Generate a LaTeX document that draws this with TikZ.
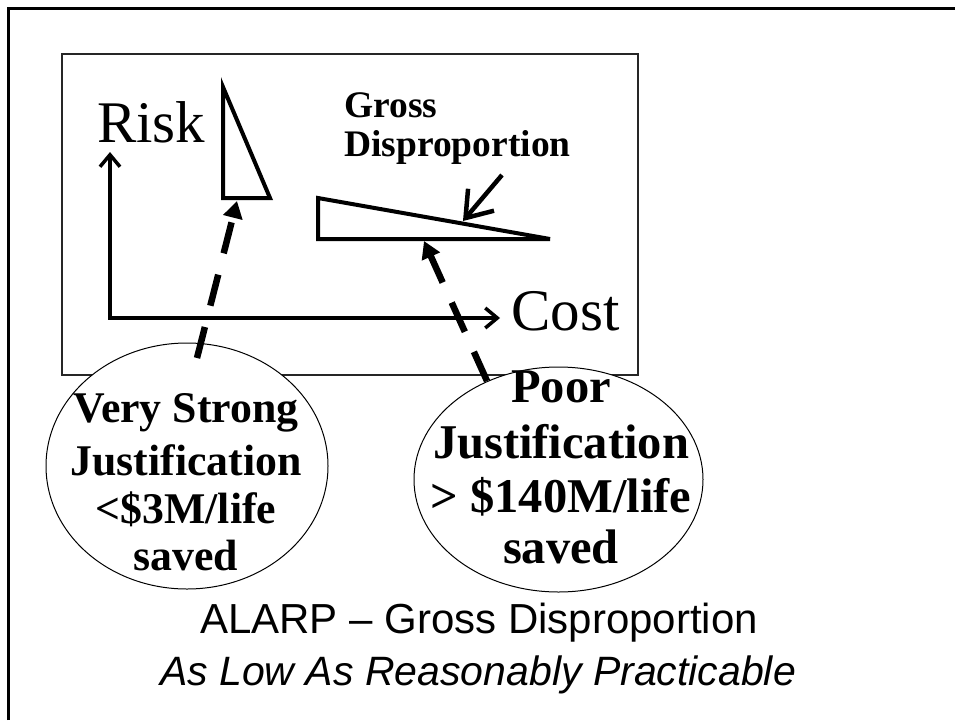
\documentclass[tikz,border=0pt]{standalone}
\usepackage{fontspec}
\setmainfont{Liberation Serif}
\newfontfamily\arialfont{Liberation Sans}
\usetikzlibrary{arrows.meta,shapes.geometric}
\tikzset{
 frameline/.style={line width=3pt},
 panel/.style={draw=black!85, line width=1.5pt},
 axis/.style={line width=3.5pt, {Straight Barb[length=12pt,width=20pt]}-{Straight Barb[length=12pt,width=20pt]}},
 wedge/.style={draw, line width=4pt, line join=miter},
 pointer/.style={line width=4.5pt, -{Straight Barb[length=24pt,width=34pt]}},
 dasharrow/.style={line width=6.5pt, dash pattern=on 32pt off 22pt, -{Triangle[length=17pt,width=19pt]}},
 ellbox/.style={ellipse, draw, line width=1pt, fill=white, inner sep=0pt},
 axlabel/.style={font=\fontsize{59}{60}\selectfont, inner sep=0pt, anchor=base west},
 gdtext/.style={font=\bfseries\fontsize{37.5}{40}\selectfont, inner sep=0pt, anchor=base west},
 lefttext/.style={font=\bfseries\fontsize{43.8}{46}\selectfont, inner sep=0pt, anchor=base},
 righttext/.style={font=\bfseries\fontsize{48.5}{50}\selectfont, inner sep=0pt, anchor=base},
 captext/.style={font=\arialfont\fontsize{42}{44}\selectfont, inner sep=0pt, anchor=base},
}
\begin{document}
\begin{tikzpicture}[x=1pt,y=-1pt]
\useasboundingbox (0,0) rectangle (955,720);
% outer frame (top and left edges only visible)
\draw[frameline] (8,720) -- (8,8) -- (955,8);
% chart panel
\draw[panel] (62,54) rectangle (638,375);
% axes
\coordinate (origin) at (110,318);
\coordinate (ytip) at (110,152);
\coordinate (xtip) at (500,318);
\draw[axis] (ytip) -- (origin) -- (xtip);
\node[axlabel] (risk) at (97,142) {Risk};
\node[axlabel] (cost) at (511,330) {Cost};
% tall triangle
\coordinate (tA) at (223,87);
\coordinate (tB) at (223,198);
\coordinate (tC) at (270,198);
\draw[wedge] (tA) -- (tB) -- (tC) -- cycle;
% flat triangle
\coordinate (fA) at (318,198);
\coordinate (fB) at (318,239);
\coordinate (fC) at (550,239);
\draw[wedge] (fA) -- (fB) -- (fC) -- cycle;
% Gross Disproportion label and pointer
\node[gdtext] (gross) at (344,117) {Gross};
\node[gdtext] (disp) at (344,156) {Disproportion};
\coordinate (gdtail) at (502,175);
\coordinate (gdtip) at (463,221);
\draw[pointer] (gdtail) -- (gdtip);
% ellipses
\node[ellbox, minimum width=282pt, minimum height=246pt] (e1) at (187,466) {};
\node[ellbox, minimum width=289pt, minimum height=225pt] (e2) at (558.5,479.5) {};
\node[lefttext] (e1a) at (186,422) {Very Strong};
\node[lefttext] (e1b) at (186,475) {Justification};
\node[lefttext] (e1c) at (186,523) {<\$3M/life};
\node[lefttext] (e1d) at (186,570) {saved};
\node[righttext] (e2a) at (561,402) {Poor};
\node[righttext] (e2b) at (561,458) {Justification};
\node[righttext] (e2c) at (561,512) {> \$140M/life};
\node[righttext] (e2d) at (561,563) {saved};
% dashed arrows
\coordinate (tail1) at (197,358);
\coordinate (tip1) at (237,201);
\draw[dasharrow] (tail1) -- (tip1);
\coordinate (tail2) at (487,381);
\coordinate (tip2) at (424,241);
\draw[dasharrow] (tail2) -- (tip2);
% caption
\node[captext] (cap1) at (479,633) {ALARP – Gross Disproportion};
\node[captext, font=\arialfont\itshape\fontsize{41}{44}\selectfont] (cap2) at (478,685) {As Low As Reasonably Practicable};
\end{tikzpicture}
\end{document}
